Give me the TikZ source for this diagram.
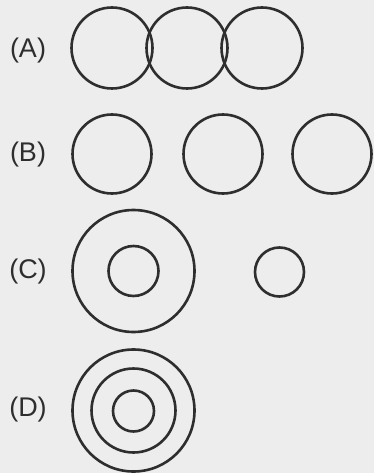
\documentclass[tikz,border=0pt]{standalone}
\usepackage{fontspec}
\setmainfont{Liberation Sans}
\definecolor{bg}{HTML}{EDEDED}
\definecolor{ink}{HTML}{2E2E2E}
\begin{document}
\begin{tikzpicture}[x=1pt,y=-1pt,
  ring/.style={draw=ink,line width=2.6pt,circle,inner sep=0pt,minimum size=#1},
  lbl/.style={text=ink,font=\fontsize{27}{27}\selectfont,inner sep=0pt,anchor=center}]
\fill[bg] (0,0) rectangle (374,473);
\useasboundingbox (0,0) rectangle (374,473);
% (A)
\node[lbl] (la) at (28,51) {(A)};
\node[ring=81pt] (a1) at (112,48) {};
\node[ring=81pt] (a2) at (187,48) {};
\node[ring=81pt] (a3) at (262,48) {};
% (B)
\node[lbl] (lb) at (28,155) {(B)};
\node[ring=79pt] (b1) at (112,154) {};
\node[ring=79pt] (b2) at (223,154) {};
\node[ring=79pt] (b3) at (332,154) {};
% (C)
\node[lbl] (lc) at (28,272) {(C)};
\node[ring=122pt] (c1) at (133.5,271) {};
\node[ring=50pt] (c2) at (133.5,271) {};
\node[ring=49pt] (c3) at (279.5,272) {};
% (D)
\node[lbl] (ld) at (28,410) {(D)};
\node[ring=122pt] (d1) at (133.5,410.5) {};
\node[ring=84pt] (d2) at (133.5,410.5) {};
\node[ring=41pt] (d3) at (133.5,411) {};
\end{tikzpicture}
\end{document}
